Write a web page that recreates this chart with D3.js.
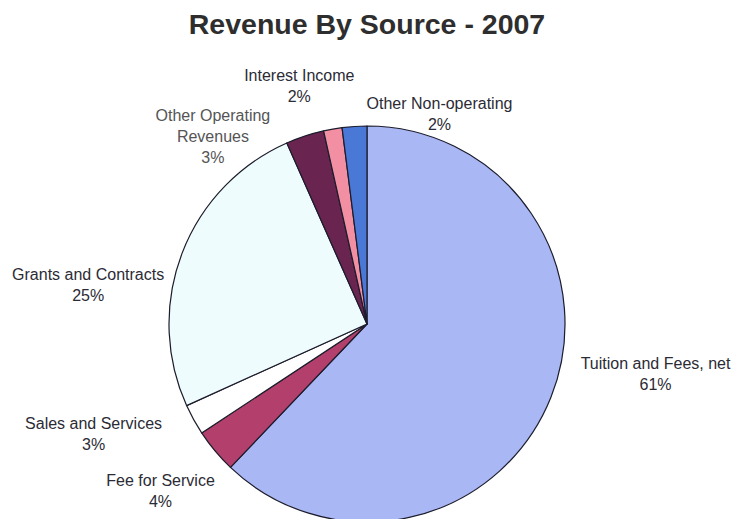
<!DOCTYPE html>
<html>
<head>
<meta charset="utf-8">
<script src="https://cdn.jsdelivr.net/npm/d3@7"></script>
<style>
    body { margin: 0; background: #fff; }
    svg { display: block; font-family: Arial, "Liberation Sans", sans-serif; }
</style>
</head>
<body>
<div id="chart"></div>
<script>
// slices, clockwise from 12 o'clock
const categories = ["Tuition and Fees, net", "Fee for Service", "Sales and Services",
    "Grants and Contracts", "Other Operating Revenues", "Interest Income", "Other Non-operating"];
const values = [61.8, 3.6, 2.5, 25.0, 3.1, 1.5, 2.0];
const pctLabels = ["61%", "4%", "3%", "25%", "3%", "2%", "2%"];
const labelLines = [
    ["Tuition and Fees, net"], ["Fee for Service"], ["Sales and Services"],
    ["Grants and Contracts"], ["Other Operating", "Revenues"], ["Interest Income"], ["Other Non-operating"]
];
const colors = ["#a9b8f4", "#b3406c", "#ffffff", "#effcfd", "#6a2450", "#f28fa3", "#4a78d6"];
// label offsets from the centroid of the label arc (Excel moves them around)
const labelNudge = [[75, -35], [-30, 20], [-72, 0], [-64, 44], [-82, 31], [-28, -11], [87, 20]];

const width = 733;
const height = 519;
const cx = 367, cy = 324, radius = 198;

const svg = d3.select("#chart")
    .append("svg")
    .attr("width", width)
    .attr("height", height);

svg.append("text")
    .attr("x", cx)
    .attr("y", 34)
    .attr("text-anchor", "middle")
    .style("font-size", "28.5px")
    .style("font-weight", "bold")
    .attr("fill", "#2e2e2e")
    .text("Revenue By Source - 2007");

const pie = d3.pie().sort(null).value(d => d);
const arcs = pie(values);

const arc = d3.arc().innerRadius(0).outerRadius(radius);
const labelArc = d3.arc().innerRadius(radius + 32).outerRadius(radius + 32);

const g = svg.append("g").attr("transform", `translate(${cx},${cy})`);

g.selectAll("path")
    .data(arcs)
    .enter().append("path")
    .attr("d", arc)
    .attr("fill", (d, i) => colors[i])
    .attr("stroke", "#1c1c2c")
    .attr("stroke-width", 1.2)
    .attr("stroke-linejoin", "round");

const lineH = 21;
const labels = g.selectAll(".label")
    .data(arcs)
    .enter().append("text")
    .attr("class", "label")
    .attr("text-anchor", "middle")
    .style("font-size", "16px")
    .attr("fill", (d, i) => i === 4 ? "#555" : "#2b2b35")
    .each(function (d, i) {
        const [x, y] = labelArc.centroid(d);
        const lines = labelLines[i].concat([pctLabels[i]]);
        const x0 = x + labelNudge[i][0];
        const y0 = y + labelNudge[i][1] - (lines.length - 1) * lineH / 2 + 5;
        d3.select(this).selectAll("tspan")
            .data(lines)
            .enter().append("tspan")
            .attr("x", x0)
            .attr("y", (t, k) => y0 + k * lineH)
            .text(t => t);
    });
</script>
</body>
</html>
